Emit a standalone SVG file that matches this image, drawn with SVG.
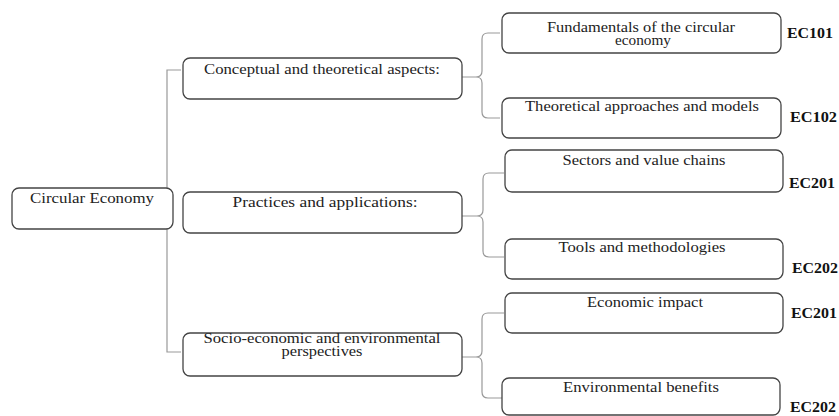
<svg xmlns="http://www.w3.org/2000/svg" width="839" height="416" viewBox="0 0 839 416">
  <style>
    .box { fill: #fff; stroke: #444; stroke-width: 1.3; }
    .lbl { font-family: "Liberation Serif", "Times New Roman", serif; font-size: 14px; fill: #222; text-anchor: middle; }
    .code { font-family: "Liberation Serif", "Times New Roman", serif; font-size: 14px; font-weight: bold; fill: #111; }
    .link { fill: none; stroke: #999; stroke-width: 1.2; }
  </style>
  <rect width="839" height="416" fill="#fff"/>

  <!-- connectors -->
  <g id="connectors">
    <path class="link" d="M181,70 H167 V352 H181"/>
    <path class="link" d="M500,33 H488 Q482,33 482,39 V71 Q482,77 476,77 H462 M476,77 Q482,77 482,83 V112 Q482,118 488,118 H500"/>
    <path class="link" d="M504,173 H489 Q483,173 483,179 V210 Q483,216 477,216 H462 M477,216 Q483,216 483,222 V251 Q483,257 489,257 H504"/>
    <path class="link" d="M504,313 H488 Q482,313 482,319 V351 Q482,357 476,357 H462 M476,357 Q482,357 482,363 V392 Q482,398 488,398 H502"/>
  </g>

  <g id="root">
    <rect class="box" x="12" y="188" width="161" height="41" rx="7"/>
    <text class="lbl" x="92" y="203" textLength="124" lengthAdjust="spacingAndGlyphs">Circular Economy</text>
  </g>

  <g id="conceptual">
    <rect class="box" x="183" y="58" width="279" height="41" rx="7"/>
    <text class="lbl" x="322" y="74" textLength="236" lengthAdjust="spacingAndGlyphs">Conceptual and theoretical  aspects:</text>
  </g>
  <g id="practices">
    <rect class="box" x="183" y="192" width="279" height="41" rx="7"/>
    <text class="lbl" x="325" y="207" textLength="185" lengthAdjust="spacingAndGlyphs">Practices and applications:</text>
  </g>
  <g id="socio">
    <rect class="box" x="183" y="333" width="279" height="43" rx="7"/>
    <text class="lbl" x="322" y="343" textLength="237" lengthAdjust="spacingAndGlyphs">Socio-economic and environmental</text>
    <text class="lbl" x="322" y="356" textLength="81" lengthAdjust="spacingAndGlyphs">perspectives</text>
  </g>

  <g id="fundamentals">
    <rect class="box" x="502" y="13" width="279" height="40" rx="7"/>
    <text class="lbl" x="641" y="32" textLength="188" lengthAdjust="spacingAndGlyphs">Fundamentals of the circular</text>
    <text class="lbl" x="643" y="45" textLength="56" lengthAdjust="spacingAndGlyphs">economy</text>
    <text class="code" x="787" y="38" textLength="46" lengthAdjust="spacingAndGlyphs">EC101</text>
  </g>
  <g id="theoretical">
    <rect class="box" x="502" y="98" width="279" height="40" rx="7"/>
    <text class="lbl" x="642" y="111" textLength="234" lengthAdjust="spacingAndGlyphs">Theoretical  approaches and models</text>
    <text class="code" x="790" y="122" textLength="47" lengthAdjust="spacingAndGlyphs">EC102</text>
  </g>
  <g id="sectors">
    <rect class="box" x="505" y="150" width="278" height="42" rx="7"/>
    <text class="lbl" x="644" y="165" textLength="163" lengthAdjust="spacingAndGlyphs">Sectors and value chains</text>
    <text class="code" x="789" y="188" textLength="46" lengthAdjust="spacingAndGlyphs">EC201</text>
  </g>
  <g id="tools">
    <rect class="box" x="505" y="239" width="278" height="40" rx="7"/>
    <text class="lbl" x="642" y="252" textLength="167" lengthAdjust="spacingAndGlyphs">Tools and methodologies</text>
    <text class="code" x="792" y="273" textLength="46" lengthAdjust="spacingAndGlyphs">EC202</text>
  </g>
  <g id="economic">
    <rect class="box" x="505" y="293" width="278" height="40" rx="7"/>
    <text class="lbl" x="645" y="307" textLength="116" lengthAdjust="spacingAndGlyphs">Economic impact</text>
    <text class="code" x="791" y="318" textLength="46" lengthAdjust="spacingAndGlyphs">EC201</text>
  </g>
  <g id="environmental">
    <rect class="box" x="502" y="378" width="278" height="37" rx="7"/>
    <text class="lbl" x="641" y="392" textLength="156" lengthAdjust="spacingAndGlyphs">Environmental benefits</text>
    <text class="code" x="790" y="412" textLength="46" lengthAdjust="spacingAndGlyphs">EC202</text>
  </g>
</svg>
